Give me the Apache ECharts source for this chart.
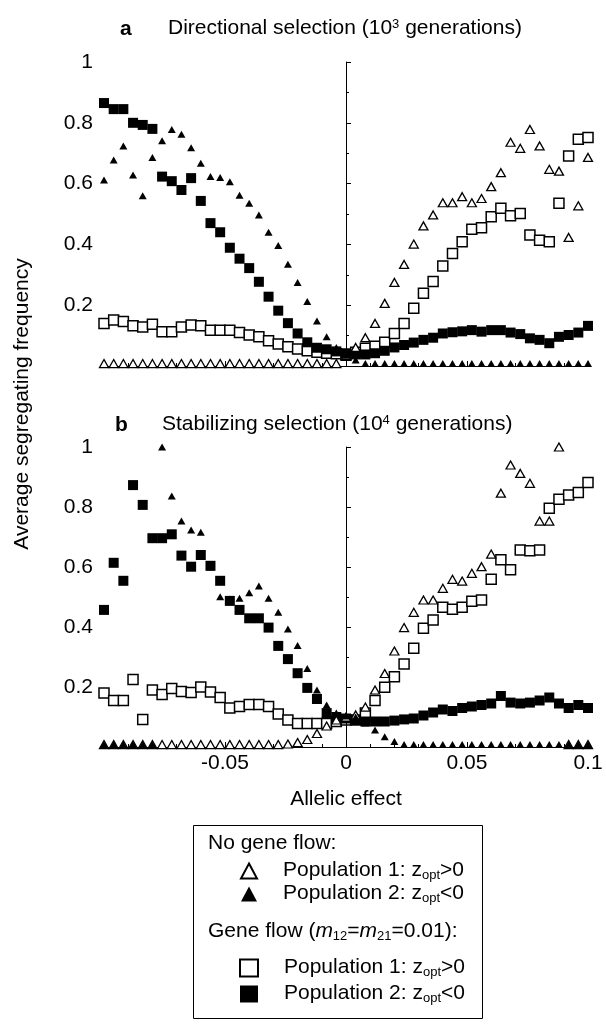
<!DOCTYPE html>
<html>
<head>
<meta charset="utf-8">
<script src="https://cdn.jsdelivr.net/npm/echarts@6/dist/echarts.min.js"></script>
<style>
html,body{margin:0;padding:0;background:#fff;}
#chart{width:606px;height:1024px;}
</style>
</head>
<body>
<div id="chart"></div>
<script>
// allelic effect of each locus
const xs = [-0.1,-0.096,-0.092,-0.088,-0.084,-0.08,-0.076,-0.072,-0.068,-0.064,-0.06,-0.056,-0.052,-0.048,-0.044,-0.04,-0.036,-0.032,-0.028,-0.024,-0.02,-0.016,-0.012,-0.008,-0.004,0,
  0.004,0.008,0.012,0.016,0.02,0.024,0.028,0.032,0.036,0.04,0.044,0.048,0.052,0.056,0.06,0.064,0.068,0.072,0.076,0.08,0.084,0.088,0.092,0.096,0.1];

// a: directional selection (10^3 generations)
const aNoFlowPop1 = [0.008,0.008,0.008,0.008,0.008,0.008,0.008,0.008,0.008,0.008,0.008,0.008,0.008,0.008,0.008,0.008,0.008,0.008,0.008,0.008,0.008,0.008,0.008,0.008,0.008,0.035,
  0.061,0.093,0.14,0.206,0.275,0.334,0.401,0.461,0.497,0.537,0.537,0.557,0.537,0.551,0.59,0.636,0.736,0.716,0.778,0.724,0.647,0.641,0.423,0.527,0.686];
const aNoFlowPop2 = [0.612,0.678,0.724,0.628,0.56,0.686,0.741,0.778,0.762,0.718,0.667,0.623,0.62,0.606,0.562,0.535,0.497,0.44,0.396,0.335,0.275,0.212,0.148,0.096,0.061,0.035,
  0.02,0.008,0.008,0.008,0.008,0.008,0.008,0.008,0.008,0.008,0.008,0.008,0.008,0.008,0.008,0.008,0.008,0.008,0.008,0.008,0.008,0.008,0.008,0.008,0.008];
const aFlowPop1 = [0.14,0.151,0.146,0.132,0.128,0.137,0.113,0.113,0.128,0.135,0.132,0.118,0.118,0.118,0.11,0.102,0.096,0.083,0.072,0.063,0.056,0.05,0.045,0.042,0.04,0.035,
  0.045,0.058,0.065,0.078,0.107,0.14,0.19,0.239,0.278,0.329,0.37,0.409,0.45,0.455,0.491,0.519,0.494,0.502,0.431,0.414,0.409,0.535,0.691,0.746,0.752];
const aFlowPop2 = [0.865,0.845,0.845,0.8,0.793,0.78,0.623,0.608,0.579,0.618,0.543,0.47,0.44,0.389,0.353,0.322,0.277,0.228,0.182,0.141,0.107,0.078,0.06,0.055,0.048,0.042,
  0.038,0.038,0.042,0.05,0.061,0.069,0.077,0.086,0.093,0.107,0.111,0.114,0.118,0.113,0.118,0.118,0.11,0.105,0.091,0.086,0.075,0.096,0.102,0.11,0.132];

// b: stabilizing selection (10^4 generations)
const bNoFlowPop1 = [0.008,0.008,0.008,0.008,0.008,0.008,0.008,0.008,0.008,0.008,0.008,0.008,0.008,0.008,0.008,0.008,0.008,0.008,0.008,0.01,0.015,0.025,0.045,0.07,0.09,0.1,
  0.107,0.133,0.19,0.245,0.32,0.398,0.449,0.49,0.49,0.529,0.559,0.553,0.579,0.601,0.643,0.846,0.94,0.912,0.879,0.753,0.753,1.0,0.008,0.008,0.008];
const bNoFlowPop2 = [0.008,0.008,0.008,0.008,0.008,0.008,1.0,0.837,0.753,0.723,0.716,0.6,0.501,0.493,0.496,0.514,0.537,0.496,0.449,0.393,0.338,0.262,0.19,0.14,0.113,0.103,
  0.1,0.08,0.057,0.034,0.018,0.008,0.008,0.008,0.008,0.008,0.008,0.008,0.008,0.008,0.008,0.008,0.008,0.008,0.008,0.008,0.008,0.008,0.008,0.008,0.008];
const bFlowPop1 = [0.18,0.155,0.155,0.225,0.092,0.19,0.175,0.195,0.185,0.182,0.2,0.183,0.165,0.13,0.135,0.142,0.142,0.135,0.11,0.09,0.078,0.078,0.078,0.078,0.085,0.09,
  0.09,0.113,0.155,0.199,0.234,0.277,0.329,0.396,0.423,0.466,0.459,0.466,0.486,0.49,0.559,0.624,0.591,0.657,0.654,0.657,0.796,0.826,0.84,0.848,0.882];
const bFlowPop2 = [0.457,0.614,0.554,0.873,0.807,0.696,0.696,0.709,0.638,0.601,0.64,0.604,0.554,0.487,0.457,0.429,0.429,0.398,0.337,0.293,0.246,0.197,0.16,0.113,0.1,0.095,
  0.09,0.085,0.085,0.085,0.088,0.092,0.095,0.105,0.115,0.125,0.12,0.13,0.135,0.14,0.145,0.17,0.148,0.145,0.148,0.155,0.165,0.145,0.13,0.14,0.13];

const xTicks = [-0.05, 0, 0.05, 0.1];
const yTicks = [0.2, 0.4, 0.6, 0.8, 1];

const font = '"Liberation Sans", Arial, Helvetica, sans-serif';
const pts = ys => xs.map((x, i) => [x, ys[i]]);

const looks = {
  nf1: { symbol: 'triangle', symbolSize: [9, 8], itemStyle: { color: '#fff', borderColor: '#000', borderWidth: 1.3, opacity: 1 } },
  nf2: { symbol: 'triangle', symbolSize: [8, 7], itemStyle: { color: '#000', opacity: 1 } },
  gf1: { symbol: 'rect', symbolSize: 10, itemStyle: { color: '#fff', borderColor: '#000', borderWidth: 1.5, opacity: 1 } },
  gf2: { symbol: 'rect', symbolSize: 10, itemStyle: { color: '#000', opacity: 1 } }
};

const legendText = {
  nf1: '{g|}{t|Population 1: z}{sub|opt}{t|>0}',
  nf2: '{g|}{t|Population 2: z}{sub|opt}{t|<0}',
  gf1: '{g|}{t|Population 1: z}{sub|opt}{t|>0}',
  gf2: '{g|}{t|Population 2: z}{sub|opt}{t|<0}'
};

const rich = {
  g: { width: 21 },
  t: { fontSize: 21, fontFamily: font, color: '#000', lineHeight: 22, verticalAlign: 'top' },
  i: { fontSize: 21, fontFamily: font, color: '#000', lineHeight: 22, verticalAlign: 'top', fontStyle: 'italic' },
  sub: { fontSize: 13, fontFamily: font, color: '#000', lineHeight: 9, verticalAlign: 'bottom' },
  sup: { fontSize: 13, fontFamily: font, color: '#000', lineHeight: 11, verticalAlign: 'top' }
};

function xAxisFor(idx, showLabels) {
  return {
    type: 'value', gridIndex: idx, min: -0.1, max: 0.1, interval: 0.05,
    axisLine: { show: true, onZero: false, lineStyle: { color: '#000', width: 1 } },
    axisTick: { show: true, inside: true, length: 5, lineStyle: { color: '#000' } },
    minorTick: { show: true, splitNumber: 5, length: 3, lineStyle: { color: '#000' } },
    splitLine: { show: false },
    axisLabel: {
      show: showLabels, color: '#000', fontSize: 21, fontFamily: font, margin: 6,
      formatter: v => {
        const t = xTicks.find(k => Math.abs(k - v) < 1e-9);
        return t === undefined ? '' : String(t);
      }
    },
    name: showLabels ? 'Allelic effect' : '',
    nameLocation: 'middle', nameGap: 42,
    nameTextStyle: { color: '#000', fontSize: 21, fontFamily: font }
  };
}

function yAxisFor(idx) {
  return {
    type: 'value', gridIndex: idx, min: 0, max: 1, interval: 0.2,
    axisLine: { show: true, lineStyle: { color: '#000', width: 1 } },
    axisTick: { show: true, inside: true, length: 5, lineStyle: { color: '#000' } },
    minorTick: { show: true, splitNumber: 2, length: 3, lineStyle: { color: '#000' } },
    splitLine: { show: false },
    axisLabel: {
      color: '#000', fontSize: 21, fontFamily: font, margin: 11,
      formatter: v => {
        const t = yTicks.find(k => Math.abs(k - v) < 1e-9);
        return t === undefined ? '' : String(t);
      }
    }
  };
}

function panelSeries(idx, sets) {
  const order = ['gf1', 'gf2', 'nf1', 'nf2'];
  return order.map((name, j) => Object.assign({
    name: name, type: 'scatter', xAxisIndex: idx, yAxisIndex: idx,
    data: pts(sets[name]), silent: true, z: 3 + j,
    markLine: j === 0 ? {
      silent: true, symbol: 'none', label: { show: false },
      lineStyle: { color: '#000', type: 'solid', width: 1 },
      data: [{ xAxis: 0 }]
    } : undefined
  }, looks[name]));
}

const chart = echarts.init(document.getElementById('chart'));
chart.setOption({
  animation: false,
  backgroundColor: '#fff',
  grid: [
    { left: 104, top: 62, width: 484, height: 304 },
    { left: 104, top: 447, width: 484, height: 300 }
  ],
  xAxis: [xAxisFor(0, false), xAxisFor(1, true)],
  yAxis: [yAxisFor(0), yAxisFor(1)],
  legend: [
    {
      data: ['nf1', 'nf2'], orient: 'vertical', left: 240, top: 860, padding: 0,
      itemWidth: 16, itemHeight: 15, itemGap: 1, selectedMode: false,
      formatter: n => legendText[n], textStyle: { rich: rich }
    },
    {
      data: ['gf1', 'gf2'], orient: 'vertical', left: 239, top: 957, padding: 0,
      itemWidth: 18, itemHeight: 17, itemGap: 4, selectedMode: false,
      formatter: n => legendText[n], textStyle: { rich: rich }
    }
  ],
  graphic: [
    { type: 'text', style: { text: 'a', x: 120, y: 29, fill: '#000', font: 'bold 21px ' + font, textVerticalAlign: 'middle' } },
    { type: 'text', style: { text: '{t|Directional selection (10}{sup|3}{t| generations)}', rich: rich, x: 168, y: 29, textVerticalAlign: 'middle' } },
    { type: 'text', style: { text: 'b', x: 115, y: 425, fill: '#000', font: 'bold 21px ' + font, textVerticalAlign: 'middle' } },
    { type: 'text', style: { text: '{t|Stabilizing selection (10}{sup|4}{t| generations)}', rich: rich, x: 162, y: 425, textVerticalAlign: 'middle' } },
    { type: 'text', rotation: Math.PI / 2, x: 22, y: 404, style: { text: 'Average segregating frequency', fill: '#000', font: '21px ' + font, textAlign: 'center', textVerticalAlign: 'middle' } },
    { type: 'rect', shape: { x: 193.5, y: 825.5, width: 289, height: 193 }, style: { fill: 'none', stroke: '#000', lineWidth: 1 } },
    { type: 'text', style: { text: 'No gene flow:', x: 208, y: 843, fill: '#000', font: '21px ' + font, textVerticalAlign: 'middle' } },
    { type: 'text', style: { text: '{t|Gene flow (}{i|m}{sub|12}{t|=}{i|m}{sub|21}{t|=0.01):}', rich: rich, x: 208, y: 932, textVerticalAlign: 'middle' } }
  ],
  series: [].concat(
    panelSeries(0, { nf1: aNoFlowPop1, nf2: aNoFlowPop2, gf1: aFlowPop1, gf2: aFlowPop2 }),
    panelSeries(1, { nf1: bNoFlowPop1, nf2: bNoFlowPop2, gf1: bFlowPop1, gf2: bFlowPop2 })
  )
});
</script>
</body>
</html>
